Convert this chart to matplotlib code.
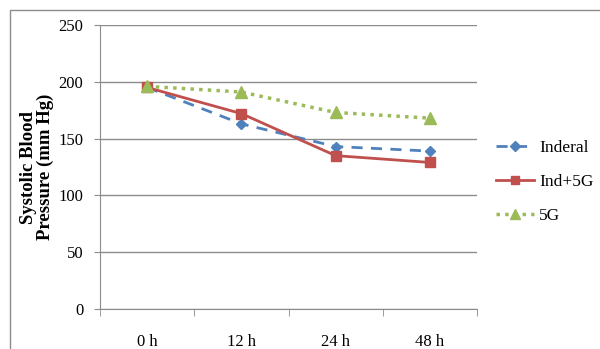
import matplotlib.pyplot as plt
from matplotlib.patches import Rectangle

plt.rcParams['font.family'] = ['Liberation Serif', 'DejaVu Serif']

timepoints = ["0 h", "12 h", "24 h", "48 h"]
inderal = [195, 163, 143, 139]
ind_5g = [195, 172, 135, 129]
gene_5g = [196, 191, 173, 168]

fig = plt.figure(figsize=(6, 3.49), dpi=100)

# thin grey frame around the chart area
fig.patches.append(Rectangle((10 / 600, -0.05), 1.0, 1 - 10 / 349 + 0.05,
                             transform=fig.transFigure, fill=False,
                             edgecolor="#8c8c8c", linewidth=1.0))

ax = fig.add_axes([100 / 600, 1 - 309 / 349, 377 / 600, 284 / 349])

x = range(len(timepoints))
ax.plot(x, inderal, color="#4F81BD", linestyle=(0, (4, 3)), linewidth=2,
        marker="D", markersize=5.5, label="Inderal")
ax.plot(x, ind_5g, color="#C0504D", linestyle="-", linewidth=2,
        marker="s", markersize=7, label="Ind+5G")
ax.plot(x, gene_5g, color="#9BBB59", linestyle=(0, (1, 1.5)), linewidth=2.5,
        marker="^", markersize=8, label="5G")

ax.set_xlim(-0.5, len(timepoints) - 0.5)
ax.set_ylim(0, 250)
ax.set_yticks(range(0, 251, 50))
ax.set_xticks(list(x))
ax.set_xticklabels(timepoints)
ax.set_xticks([i - 0.5 for i in range(len(timepoints) + 1)], minor=True)

ax.grid(axis="y", color="#8c8c8c", linewidth=1)
ax.set_axisbelow(True)
for side in ("top", "right"):
    ax.spines[side].set_visible(False)
for side in ("left", "bottom"):
    ax.spines[side].set_color("#8c8c8c")

ax.tick_params(axis="y", length=4, color="#8c8c8c", labelsize=12, pad=8)
ax.tick_params(axis="x", which="major", length=0, labelsize=12, pad=18)
ax.tick_params(axis="x", which="minor", length=5, color="#8c8c8c")

ax.set_ylabel("Systolic Blood\nPressure (mm Hg)", fontsize=13.5,
              fontweight="bold", labelpad=3, linespacing=1.0)

fig.legend(loc="center left", bbox_to_anchor=(480 / 600, 1 - 182 / 349),
           frameon=False, fontsize=12.5, handlelength=2.2,
           labelspacing=1.05, handletextpad=0.3, markerscale=0.9)

fig.savefig("out.png", dpi=100)
